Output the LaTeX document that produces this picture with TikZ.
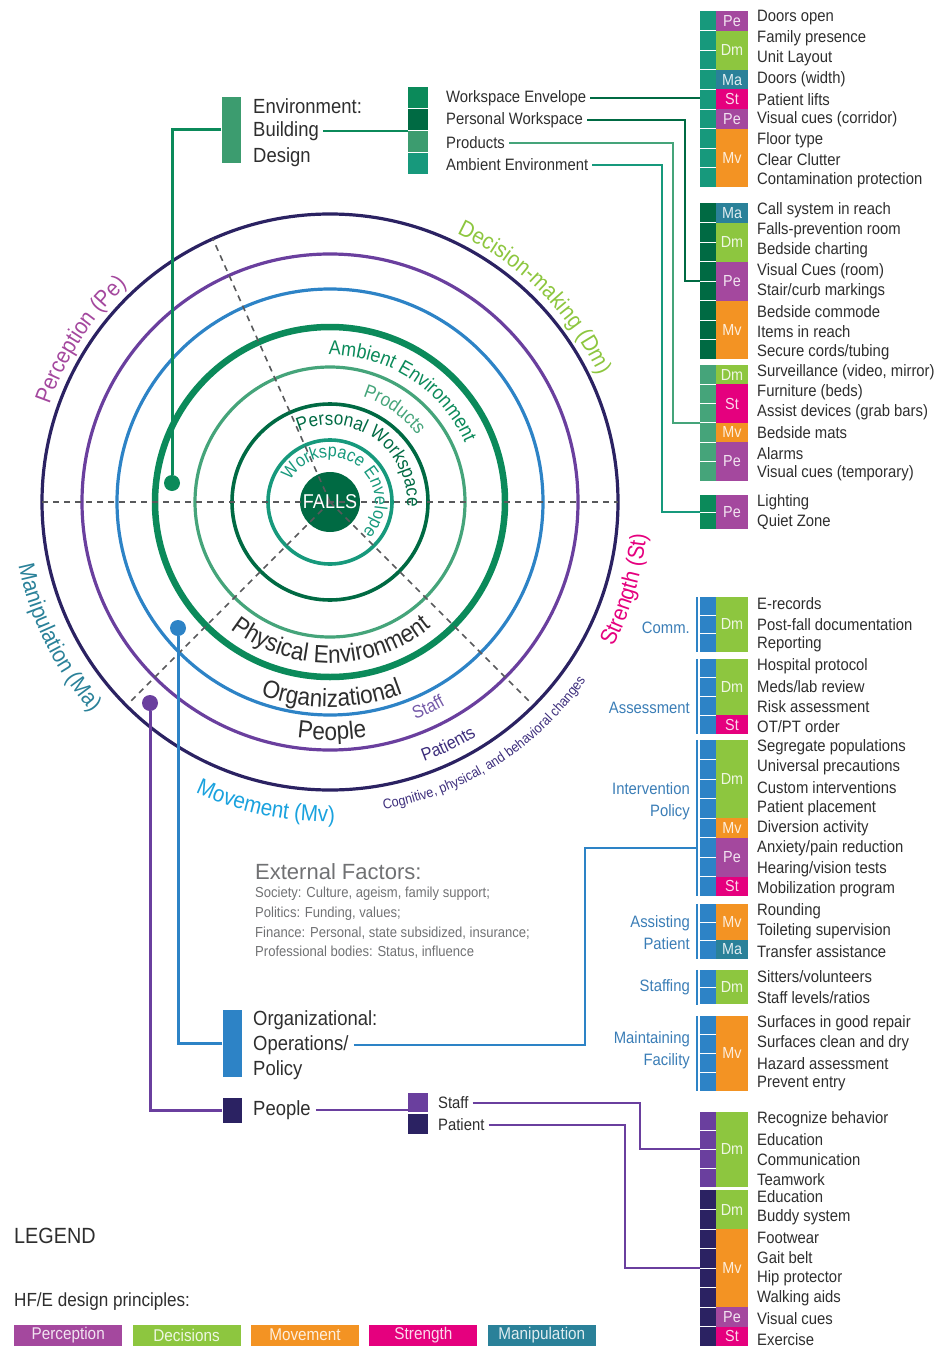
\documentclass[tikz,border=0pt]{standalone}
\usepackage{fontspec}
\setmainfont{Liberation Sans}[FakeStretch=0.9]
\newfontfamily\widefont{Liberation Sans}
\usetikzlibrary{positioning, decorations.text}

\definecolor{navyring}{HTML}{2B2262}
\definecolor{purpring}{HTML}{6A3F9E}
\definecolor{bluering}{HTML}{2D83C6}
\definecolor{ambgreen}{HTML}{0B8A5A}
\definecolor{prodgreen}{HTML}{45A47A}
\definecolor{pwgreen}{HTML}{006A43}
\definecolor{wegreen}{HTML}{17997C}
\definecolor{envgreen}{HTML}{3C9C6F}
\definecolor{pe}{HTML}{A4489E}
\definecolor{dm}{HTML}{8DC63F}
\definecolor{mv}{HTML}{F39323}
\definecolor{st}{HTML}{E5007E}
\definecolor{ma}{HTML}{2A8199}
\definecolor{movecyan}{HTML}{1AA2DE}
\definecolor{orgtxt}{HTML}{3A7DB6}
\definecolor{txtgray}{HTML}{2E2E2E}
\definecolor{extgray}{HTML}{707173}
\definecolor{dashgray}{HTML}{58595B}
\definecolor{stafftxt}{HTML}{7459A8}
\definecolor{pattxt}{HTML}{3D2E7C}

\tikzset{
  itemtxt/.style={anchor=west, inner sep=0pt, text=txtgray, font=\fontsize{16.5}{20}\selectfont},
  lbltxt/.style={anchor=west, inner sep=0pt, text=txtgray, font=\fontsize{16.5}{20}\selectfont},
  boxtxt/.style={anchor=west, inner sep=0pt, text=txtgray, font=\fontsize{20.5}{24}\selectfont},
  orglbl/.style={anchor=east, align=right, inner sep=0pt, text=orgtxt, font=\fontsize{16.5}{22}\selectfont},
  gbox/.style={minimum width=16pt, inner sep=0pt},
  pbox/.style={minimum width=32pt, inner sep=0pt, text=white, text opacity=0.85, font=\fontsize{16}{18}\selectfont},
  sq/.style={minimum width=20pt, minimum height=21pt, inner sep=0pt},
  boxbar/.style={minimum width=19pt, inner sep=0pt},
  dot/.style={circle, inner sep=0pt, minimum size=16pt},
  ring/.style={line width=3.2pt},
  conn/.style={line width=3pt},
  link/.style={line width=2pt},
  brk/.style={bluering, line width=1.6pt},
  dashline/.style={dashgray, line width=1.6pt, dash pattern=on 6pt off 5pt},
  legbox/.style={minimum width=108pt, minimum height=21pt, inner sep=0pt, anchor=west, text=white, text opacity=0.85, font=\fontsize{17}{20}\selectfont},
}

% rows of one group: prefix, first y, texts
\newcommand{\items}[3]{%
  \foreach \t [count=\i from 0] in {#3}
    \node[itemtxt] (#1\i) at (757,{#2+20.3*\i}) {\t};}
% left bar of a group: name, colour, first y, rows
\newcommand{\gbar}[4]{%
  \pgfmathsetmacro{\gh}{(20.3*(#4-1)+14)/#4}
  \node[gbox, fill=#2, minimum height={\gh*#4}] (#1) at (708,{#3+10.15*(#4-1)}) {};
  \foreach \k in {2,...,#4}
    \draw[white, line width=0.9pt] (700,{#3-7+\gh*(\k-1)}) -- ++(16,0);}
% principle cell: name, first y, rows, from, to, colour, label
\newcommand{\pcell}[7]{%
  \pgfmathsetmacro{\gh}{(20.3*(#3-1)+14)/#3}
  \node[pbox, fill=#6, minimum height={\gh*(#5-#4+1)}] (#1) at (732,{#2-7+\gh*(#4+#5+1)/2}) {#7};}
% text round a ring
\newcommand{\arctext}[5]{%
  \path[decorate, decoration={text along path, text align=center, text={|#1|#2}}] (#3:#5) arc (#3:#4:#5);}

\begin{document}
\begin{tikzpicture}[x=1pt, y=-1pt]
\useasboundingbox (0,0) rectangle (936,1348);

% the rings
\begin{scope}[shift={(330pt,-502pt)}, y=1pt]
  \draw[ring, navyring] (0,0) circle (288);
  \draw[ring, purpring] (0,0) circle (248);
  \draw[ring, bluering] (0,0) circle (213);
  \draw[ambgreen, line width=6.5pt] (0,0) circle (175);
  \draw[ring, prodgreen] (0,0) circle (135);
  \draw[pwgreen, line width=3.6pt] (0,0) circle (98);
  \draw[wegreen, line width=3.6pt] (0,0) circle (62);
  \fill[pwgreen] (0,0) circle (30);
  \draw[dashline] (180:288) -- (0:288);
  \draw[dashline] (0,0) -- (114:288);
  \draw[dashline] (0,0) -- (-45:285);
  \draw[dashline] (0,0) -- (225:285);
  \node[text=white, font=\fontsize{20}{20}\selectfont] (falls) at (0,0) {FALLS};
  \arctext{\fontsize{23}{23}\selectfont\color{pe}}{Perception (Pe)}{178}{116}{297}
  \arctext{\fontsize{23}{23}\selectfont\color{dm}}{Decision-making (Dm)}{85}{5}{297}
  \arctext{\fontsize{23}{23}\selectfont\color{st}}{Strength (St)}{-50}{17}{318}
  \arctext{\fontsize{23}{23}\selectfont\color{ma}}{Manipulation (Ma)}{170}{243}{318}
  \arctext{\fontsize{23}{23}\selectfont\color{movecyan}}{Movement (Mv)}{225}{291}{320}
  \arctext{\fontsize{14}{14}\selectfont\color{pattxt}}{Cognitive, physical, and behavioral changes}{-105}{-10}{312}
  \arctext{\fontsize{18}{18}\selectfont\color{pattxt}}{Patients}{-90}{-38}{276}
  \arctext{\fontsize{18}{18}\selectfont\color{stafftxt}}{Staff}{-85}{-44}{234}
  \arctext{\fontsize{25}{25}\selectfont\color{txtgray}}{People}{240}{301}{238}
  \arctext{\fontsize{25}{25}\selectfont\color{txtgray}}{Organizational}{230}{311}{205}
  \arctext{\fontsize{25}{25}\selectfont\color{txtgray}}{Physical Environment}{215}{326}{161}
  \arctext{\fontsize{20}{20}\selectfont\color{ambgreen}}{Ambient Environment}{125}{-11}{147}
  \arctext{\fontsize{19}{19}\selectfont\color{prodgreen}}{Products}{110}{0}{110}
  \arctext{\fontsize{19}{19}\selectfont\color{pwgreen}}{Personal Workspace}{160}{-50}{77}
  \arctext{\fontsize{18}{18}\selectfont\color{wegreen}}{Workspace Envelope}{200}{-92}{45}
\end{scope}

% environment: building design
\node[boxbar, fill=envgreen, minimum height=66pt] (envbar) at (231,130) {};
\node[boxtxt] (envA) at (253,106) {Environment:};
\node[boxtxt] (envB) at (253,131) {Building};
\node[boxtxt] (envC) at (253,157) {Design};
\node[sq, fill=ambgreen] (sqWE) at (418,98) {};
\node[sq, fill=pwgreen] (sqPW) at (418,120) {};
\node[sq, fill=envgreen] (sqPR) at (418,142) {};
\node[sq, fill=wegreen] (sqAE) at (418,164) {};
\node[lbltxt] (lblWE) at (446,98) {Workspace Envelope};
\node[lbltxt] (lblPW) at (446,120) {Personal Workspace};
\node[lbltxt] (lblPR) at (446,143) {Products};
\node[lbltxt] (lblAE) at (446,165) {Ambient Environment};

% groups of the physical environment
\gbar{webar}{wegreen}{18}{9}
\pcell{wec1}{18}{9}{0}{0}{pe}{Pe}
\pcell{wec2}{18}{9}{1}{2}{dm}{Dm}
\pcell{wec3}{18}{9}{3}{3}{ma}{Ma}
\pcell{wec4}{18}{9}{4}{4}{st}{St}
\pcell{wec5}{18}{9}{5}{5}{pe}{Pe}
\pcell{wec6}{18}{9}{6}{8}{mv}{Mv}
\items{wet}{18}{Doors open, Family presence, Unit Layout, Doors (width), Patient lifts, Visual cues (corridor), Floor type, Clear Clutter, Contamination protection}

\gbar{pwbar}{pwgreen}{210}{8}
\pcell{pwc1}{210}{8}{0}{0}{ma}{Ma}
\pcell{pwc2}{210}{8}{1}{2}{dm}{Dm}
\pcell{pwc3}{210}{8}{3}{4}{pe}{Pe}
\pcell{pwc4}{210}{8}{5}{7}{mv}{Mv}
\items{pwt}{210}{Call system in reach, Falls-prevention room, Bedside charting, Visual Cues (room), Stair/curb markings, Bedside commode, Items in reach, Secure cords/tubing}

\gbar{prbar}{prodgreen}{372}{6}
\pcell{prc1}{372}{6}{0}{0}{dm}{Dm}
\pcell{prc2}{372}{6}{1}{2}{st}{St}
\pcell{prc3}{372}{6}{3}{3}{mv}{Mv}
\pcell{prc4}{372}{6}{4}{5}{pe}{Pe}
\items{prt}{372}{{Surveillance (video, mirror)}, Furniture (beds), Assist devices (grab bars), Bedside mats, Alarms, Visual cues (temporary)}

\gbar{aebar}{ambgreen}{502}{2}
\pcell{aec1}{502}{2}{0}{1}{pe}{Pe}
\items{aet}{502}{Lighting, Quiet Zone}

\draw[link, ambgreen] ([xshift=4pt]envB.east) -- (envB.east -| sqPW.west);
\draw[link, pwgreen] ([xshift=4pt]lblWE.east) -- (lblWE.east -| webar.west);
\draw[link, pwgreen] ([xshift=4pt]lblPW.east) -| ([xshift=-15pt]pwbar.west) -- (pwbar.west);
\draw[link, prodgreen] ([xshift=4pt]lblPR.east) -| ([xshift=-27pt]prbar.west) -- (prbar.west);
\draw[link, wegreen] ([xshift=4pt]lblAE.east) -| ([xshift=-38pt]aebar.west) -- (aebar.west);

% organizational groups
\gbar{cmbar}{bluering}{604}{3}
\pcell{cmc1}{604}{3}{0}{2}{dm}{Dm}
\items{cmt}{604}{E-records, Post-fall documentation, Reporting}

\gbar{asbar}{bluering}{666}{4}
\pcell{asc1}{666}{4}{0}{2}{dm}{Dm}
\pcell{asc2}{666}{4}{3}{3}{st}{St}
\items{ast}{666}{Hospital protocol, Meds/lab review, Risk assessment, OT/PT order}

\gbar{ivbar}{bluering}{747}{8}
\pcell{ivc1}{747}{8}{0}{3}{dm}{Dm}
\pcell{ivc2}{747}{8}{4}{4}{mv}{Mv}
\pcell{ivc3}{747}{8}{5}{6}{pe}{Pe}
\pcell{ivc4}{747}{8}{7}{7}{st}{St}
\items{ivt}{747}{Segregate populations, Universal precautions, Custom interventions, Patient placement, Diversion activity, Anxiety/pain reduction, Hearing/vision tests, Mobilization program}

\gbar{apbar}{bluering}{911}{3}
\pcell{apc1}{911}{3}{0}{1}{mv}{Mv}
\pcell{apc2}{911}{3}{2}{2}{ma}{Ma}
\items{apt}{911}{Rounding, Toileting supervision, Transfer assistance}

\gbar{sfbar}{bluering}{977}{2}
\pcell{sfc1}{977}{2}{0}{1}{dm}{Dm}
\items{sft}{977}{Sitters/volunteers, Staff levels/ratios}

\gbar{mfbar}{bluering}{1023}{4}
\pcell{mfc1}{1023}{4}{0}{3}{mv}{Mv}
\items{mft}{1023}{Surfaces in good repair, Surfaces clean and dry, Hazard assessment, Prevent entry}

\foreach \b in {cmbar, asbar, ivbar, apbar, sfbar, mfbar}
  \draw[brk] ([xshift=-3pt]\b.north west) -- ([xshift=-3pt]\b.south west);

\node[orglbl] (lblCm) at (690,628) {Comm.};
\node[orglbl] (lblAs) at (690,708) {Assessment};
\node[orglbl] (lblIv) at (690,801) {Intervention\\Policy};
\node[orglbl] (lblAp) at (690,933) {Assisting\\Patient};
\node[orglbl] (lblSf) at (690,987) {Staffing};
\node[orglbl] (lblMf) at (690,1050) {Maintaining\\Facility};

% people groups
\gbar{psbar}{purpring}{1119}{4}
\pcell{psc1}{1119}{4}{0}{3}{dm}{Dm}
\items{pst}{1119}{Recognize behavior, Education, Communication, Teamwork}

\gbar{ppbar}{navyring}{1197}{8}
\pcell{ppc1}{1197}{8}{0}{1}{dm}{Dm}
\pcell{ppc2}{1197}{8}{2}{5}{mv}{Mv}
\pcell{ppc3}{1197}{8}{6}{6}{pe}{Pe}
\pcell{ppc4}{1197}{8}{7}{7}{st}{St}
\items{ppt}{1197}{Education, Buddy system, Footwear, Gait belt, Hip protector, Walking aids, Visual cues, Exercise}

% organizational box
\node[boxbar, fill=bluering, minimum height=67pt] (orgbar) at (232,1043) {};
\node[boxtxt] (orgA) at (253,1020) {Organizational:};
\node[boxtxt] (orgB) at (253,1045) {Operations/};
\node[boxtxt] (orgC) at (253,1070) {Policy};
\draw[link, bluering] ([xshift=5pt]orgB.east) -| ([xshift=-115pt, yshift=-30pt]ivbar.west) -- ([xshift=-3pt, yshift=-30pt]ivbar.west);

% people box
\node[boxbar, fill=navyring, minimum height=25pt] (pplbox) at (232,1110) {};
\node[boxtxt] (pplA) at (253,1110) {People};
\node[sq, fill=purpring, minimum height=19pt] (sqStaff) at (418,1102) {};
\node[sq, fill=navyring, minimum height=20pt] (sqPat) at (418,1124) {};
\node[lbltxt] (lblStaff) at (438,1103) {Staff};
\node[lbltxt] (lblPat) at (438,1125) {Patient};
\draw[link, purpring] ([xshift=5pt]pplA.east) -- (pplA.east -| sqStaff.west);
\draw[link, purpring] ([xshift=4pt]lblStaff.east) -| ([xshift=-60pt]psbar.west) -- (psbar.west);
\draw[link, purpring] ([xshift=4pt]lblPat.east) -| ([xshift=-75pt]ppbar.west) -- (ppbar.west);

% dots on the rings and their leads
\node[dot, fill=ambgreen] (envdot) at (172,483) {};
\node[dot, fill=bluering] (orgdot) at (178,628) {};
\node[dot, fill=purpring] (ppldot) at (150,703) {};
\draw[conn, ambgreen] (envbar.west) -| (envdot);
\draw[conn, bluering] (orgbar.west) -| (orgdot);
\draw[conn, purpring] (pplbox.west) -| (ppldot);

% external factors
\node[anchor=west, inner sep=0pt, text=extgray, font=\widefont\fontsize{22}{24}\selectfont] (exthead) at (255,872) {External Factors:};
\node[anchor=north west, inner sep=0pt, align=left, text=extgray, font=\fontsize{14.5}{19.7}\selectfont] (extbody) at (255,887) {Society: Culture, ageism, family support;\\Politics: Funding, values;\\Finance: Personal, state subsidized, insurance;\\Professional bodies: Status, influence};

% legend
\node[anchor=west, inner sep=0pt, text=txtgray, font=\fontsize{22}{24}\selectfont] (legend) at (14,1236) {LEGEND};
\node[anchor=west, inner sep=0pt, text=txtgray, font=\fontsize{19}{22}\selectfont] (legsub) at (14,1302) {HF/E design principles:};
\node[legbox, fill=pe] (legpe) at (14,1335) {Perception};
\node[legbox, fill=dm, right=10pt of legpe] (legdm) {Decisions};
\node[legbox, fill=mv, right=10pt of legdm] (legmv) {Movement};
\node[legbox, fill=st, right=10pt of legmv] (legst) {Strength};
\node[legbox, fill=ma, right=10pt of legst] (legma) {Manipulation};
\end{tikzpicture}
\end{document}
